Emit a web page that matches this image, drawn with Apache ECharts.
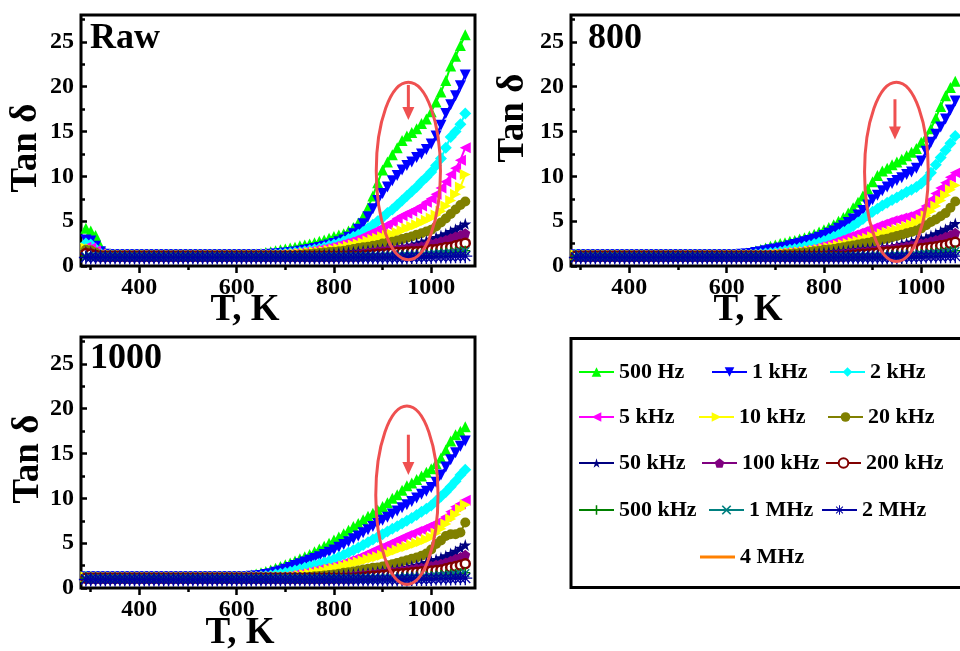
<!DOCTYPE html>
<html>
<head>
<meta charset="utf-8">
<script src="https://cdn.jsdelivr.net/npm/echarts@6.0.0/dist/echarts.min.js"></script>
<style>
  html, body { margin: 0; padding: 0; background: #fff; }
  #chart { width: 960px; height: 651px; }
</style>
</head>
<body>
<div id="chart"></div>
<script>
// Measurement temperatures (K)
const TEMPS = [
  290,300,310,320,330,340,350,360,370,380,
  390,400,410,420,430,440,450,460,470,480,
  490,500,510,520,530,540,550,560,570,580,
  590,600,610,620,630,640,650,660,670,680,
  690,700,710,720,730,740,750,760,770,780,
  790,800,810,820,830,840,850,860,870,880,
  890,900,910,920,930,940,950,960,970,980,
  990,1000,1010,1020,1030,1040,1050,1060,1070
];

const FREQS = ['500 Hz','1 kHz','2 kHz','5 kHz','10 kHz','20 kHz','50 kHz','100 kHz','200 kHz','500 kHz','1 MHz','2 MHz','4 MHz'];
const PANEL_LABELS = ['Raw', '800', '1000'];
const X_MAJOR = [400, 600, 800, 1000];
const X_MINOR = [300, 500, 700, 900];
const Y_MAJOR = [0, 5, 10, 15, 20, 25];
const Y_MINOR = [2.5, 7.5, 12.5, 17.5, 22.5, 27.5];

// ---- Raw sample ----
const RAW_500HZ = [
  4.2,3.9,3.4,2.2,1.5,1.3,1.25,1.25,1.25,1.25,
  1.25,1.25,1.25,1.25,1.25,1.25,1.25,1.25,1.25,1.25,
  1.25,1.25,1.25,1.25,1.25,1.25,1.25,1.25,1.25,1.25,
  1.25,1.25,1.25,1.25,1.3,1.35,1.4,1.5,1.6,1.7,
  1.8,1.9,2.0,2.1,2.25,2.35,2.45,2.6,2.75,2.9,
  3.1,3.3,3.45,3.6,3.9,4.3,4.8,5.5,6.5,7.8,
  9.3,10.7,11.6,12.4,13.2,14.0,14.5,14.9,15.3,15.9,
  16.4,17.2,18.3,19.4,20.7,22.3,23.4,24.6,25.8];
const RAW_1KHZ = [
  2.9,2.8,2.2,1.6,1.3,1.25,1.25,1.25,1.25,1.25,
  1.25,1.25,1.25,1.25,1.25,1.25,1.25,1.25,1.25,1.25,
  1.25,1.25,1.25,1.25,1.25,1.25,1.25,1.25,1.25,1.25,
  1.25,1.25,1.25,1.25,1.25,1.25,1.25,1.25,1.3,1.35,
  1.4,1.45,1.5,1.55,1.65,1.75,1.85,1.95,2.05,2.2,
  2.35,2.5,2.7,2.9,3.2,3.6,4.1,4.7,5.5,6.4,
  7.3,8.1,8.8,9.5,10.1,10.7,11.2,11.6,12.1,12.5,
  13.0,13.6,14.5,15.7,17.0,18.0,19.0,20.1,21.3];
const RAW_2KHZ = [
  2.5,2.4,1.9,1.4,1.25,1.25,1.25,1.25,1.25,1.25,
  1.25,1.25,1.25,1.25,1.25,1.25,1.25,1.25,1.25,1.25,
  1.25,1.25,1.25,1.25,1.25,1.25,1.25,1.25,1.25,1.25,
  1.25,1.25,1.25,1.25,1.25,1.25,1.25,1.25,1.25,1.3,
  1.35,1.4,1.45,1.5,1.55,1.65,1.75,1.85,1.95,2.1,
  2.25,2.4,2.55,2.75,3.0,3.25,3.5,3.8,4.2,4.6,
  5.0,5.4,5.9,6.3,6.8,7.3,7.8,8.3,8.8,9.4,
  9.9,10.5,11.2,12.0,13.2,14.4,15.0,15.8,17.0];
const RAW_5KHZ = [
  2.1,2.0,1.7,1.35,1.25,1.25,1.25,1.25,1.25,1.25,
  1.25,1.25,1.25,1.25,1.25,1.25,1.25,1.25,1.25,1.25,
  1.25,1.25,1.25,1.25,1.25,1.25,1.25,1.25,1.25,1.25,
  1.25,1.25,1.25,1.25,1.25,1.25,1.25,1.25,1.25,1.25,
  1.3,1.35,1.4,1.45,1.5,1.6,1.65,1.75,1.85,1.95,
  2.05,2.2,2.35,2.5,2.65,2.85,3.05,3.3,3.55,3.8,
  4.05,4.35,4.6,4.9,5.3,5.6,5.85,6.1,6.4,6.7,
  7.1,7.5,8.0,8.7,9.4,10.2,10.9,11.8,13.2];
const RAW_10KHZ = [
  2.0,1.9,1.6,1.3,1.25,1.25,1.25,1.25,1.25,1.25,
  1.25,1.25,1.25,1.25,1.25,1.25,1.25,1.25,1.25,1.25,
  1.25,1.25,1.25,1.25,1.25,1.25,1.25,1.25,1.25,1.25,
  1.25,1.25,1.25,1.25,1.25,1.25,1.25,1.25,1.25,1.25,
  1.25,1.25,1.3,1.35,1.4,1.45,1.5,1.55,1.6,1.65,
  1.75,1.85,1.95,2.05,2.2,2.35,2.45,2.6,2.8,2.95,
  3.1,3.25,3.4,3.55,3.75,3.95,4.2,4.4,4.6,4.85,
  5.1,5.35,5.7,6.1,6.7,7.3,8.0,8.8,10.2];
const RAW_20KHZ = [
  1.8,1.75,1.5,1.25,1.2,1.2,1.2,1.2,1.2,1.2,
  1.2,1.2,1.2,1.2,1.2,1.2,1.2,1.2,1.2,1.2,
  1.2,1.2,1.2,1.2,1.2,1.2,1.2,1.2,1.2,1.2,
  1.2,1.2,1.2,1.2,1.2,1.2,1.2,1.2,1.2,1.2,
  1.2,1.2,1.2,1.2,1.25,1.3,1.35,1.4,1.45,1.5,
  1.55,1.6,1.65,1.7,1.8,1.9,2.0,2.1,2.15,2.25,
  2.35,2.5,2.6,2.7,2.85,3.0,3.15,3.3,3.5,3.65,
  3.85,4.05,4.4,4.85,5.3,5.8,6.3,6.8,7.2];
const RAW_50KHZ = [
  1.6,1.55,1.35,1.2,1.15,1.15,1.15,1.15,1.15,1.15,
  1.15,1.15,1.15,1.15,1.15,1.15,1.15,1.15,1.15,1.15,
  1.15,1.15,1.15,1.15,1.15,1.15,1.15,1.15,1.15,1.15,
  1.15,1.15,1.15,1.15,1.15,1.15,1.15,1.15,1.15,1.15,
  1.15,1.15,1.15,1.15,1.15,1.15,1.15,1.2,1.25,1.3,
  1.35,1.4,1.45,1.5,1.55,1.6,1.65,1.7,1.75,1.8,
  1.85,1.9,1.95,2.0,2.05,2.15,2.25,2.35,2.5,2.65,
  2.8,3.0,3.2,3.4,3.6,3.85,4.1,4.4,4.7];
const RAW_100KHZ = [
  1.5,1.45,1.25,1.1,1.1,1.1,1.1,1.1,1.1,1.1,
  1.1,1.1,1.1,1.1,1.1,1.1,1.1,1.1,1.1,1.1,
  1.1,1.1,1.1,1.1,1.1,1.1,1.1,1.1,1.1,1.1,
  1.1,1.1,1.1,1.1,1.1,1.1,1.1,1.1,1.1,1.1,
  1.1,1.1,1.1,1.1,1.1,1.1,1.1,1.1,1.1,1.1,
  1.1,1.1,1.15,1.2,1.25,1.3,1.35,1.45,1.5,1.55,
  1.65,1.7,1.75,1.8,1.85,1.9,1.95,2.05,2.1,2.2,
  2.3,2.45,2.6,2.75,2.9,3.1,3.3,3.45,3.65];
const RAW_200KHZ = [
  1.4,1.35,1.2,1.1,1.1,1.1,1.1,1.1,1.1,1.1,
  1.1,1.1,1.1,1.1,1.1,1.1,1.1,1.1,1.1,1.1,
  1.1,1.1,1.1,1.1,1.1,1.1,1.1,1.1,1.1,1.1,
  1.1,1.1,1.1,1.1,1.1,1.1,1.1,1.1,1.1,1.1,
  1.1,1.1,1.1,1.1,1.1,1.1,1.1,1.1,1.1,1.1,
  1.1,1.1,1.1,1.1,1.1,1.1,1.1,1.15,1.2,1.25,
  1.3,1.35,1.4,1.45,1.5,1.5,1.55,1.6,1.6,1.65,
  1.7,1.8,1.85,1.95,2.05,2.1,2.25,2.4,2.55];

// ---- High-frequency curves (nearly identical in all three samples) ----
const HF_500KHZ = [
  1.1,1.1,1.1,1.1,1.1,1.1,1.1,1.1,1.1,1.1,
  1.1,1.1,1.1,1.1,1.1,1.1,1.1,1.1,1.1,1.1,
  1.1,1.1,1.1,1.1,1.1,1.1,1.1,1.1,1.1,1.1,
  1.1,1.1,1.1,1.1,1.1,1.1,1.1,1.1,1.1,1.1,
  1.1,1.1,1.1,1.1,1.1,1.1,1.1,1.1,1.1,1.1,
  1.1,1.1,1.1,1.1,1.1,1.1,1.1,1.1,1.1,1.1,
  1.1,1.1,1.15,1.15,1.2,1.2,1.25,1.25,1.3,1.3,
  1.35,1.35,1.4,1.45,1.5,1.55,1.6,1.65,1.7];
const HF_1MHZ = [
  1.05,1.05,1.05,1.05,1.05,1.05,1.05,1.05,1.05,1.05,
  1.05,1.05,1.05,1.05,1.05,1.05,1.05,1.05,1.05,1.05,
  1.05,1.05,1.05,1.05,1.05,1.05,1.05,1.05,1.05,1.05,
  1.05,1.05,1.05,1.05,1.05,1.05,1.05,1.05,1.05,1.05,
  1.05,1.05,1.05,1.05,1.05,1.05,1.05,1.05,1.05,1.05,
  1.05,1.05,1.05,1.05,1.05,1.05,1.05,1.05,1.05,1.05,
  1.05,1.05,1.1,1.1,1.1,1.1,1.15,1.15,1.15,1.15,
  1.2,1.25,1.3,1.35,1.4,1.45,1.5,1.55,1.65];
const HF_2MHZ = [
  0.95,0.95,0.95,0.95,0.95,0.95,0.95,0.95,0.95,0.95,
  0.95,0.95,0.95,0.95,0.95,0.95,0.95,0.95,0.95,0.95,
  0.95,0.95,0.95,0.95,0.95,0.95,0.95,0.95,0.95,0.95,
  0.95,0.95,0.95,0.95,0.95,0.95,0.95,0.95,0.95,0.95,
  0.95,0.95,0.95,0.95,0.95,0.95,0.95,0.95,0.95,0.95,
  0.95,0.95,0.95,0.95,0.95,0.95,0.95,0.95,0.95,0.95,
  0.95,0.95,0.95,0.95,0.95,0.95,0.95,1.0,1.0,1.0,
  1.0,1.0,1.05,1.05,1.05,1.05,1.1,1.1,1.1];
const HF_4MHZ = [
  1.0,1.0,1.0,1.0,1.0,1.0,1.0,1.0,1.0,1.0,
  1.0,1.0,1.0,1.0,1.0,1.0,1.0,1.0,1.0,1.0,
  1.0,1.0,1.0,1.0,1.0,1.0,1.0,1.0,1.0,1.0,
  1.0,1.0,1.0,1.0,1.0,1.0,1.0,1.0,1.0,1.0,
  1.0,1.0,1.0,1.0,1.0,1.0,1.0,1.0,1.0,1.0,
  1.0,1.0,1.0,1.0,1.0,1.0,1.0,1.0,1.0,1.0,
  1.0,1.05,1.05,1.05,1.05,1.05,1.05,1.05,1.05,1.05,
  1.05,1.05,1.1,1.1,1.15,1.15,1.2,1.2,1.25];

// ---- Annealed at 800 ----
const A800_500HZ = [
  1.25,1.25,1.25,1.25,1.25,1.25,1.25,1.25,1.25,1.25,
  1.25,1.25,1.25,1.25,1.25,1.25,1.25,1.25,1.25,1.25,
  1.25,1.25,1.25,1.25,1.25,1.25,1.25,1.25,1.25,1.25,
  1.25,1.25,1.25,1.3,1.35,1.45,1.55,1.7,1.85,2.0,
  2.2,2.35,2.5,2.6,2.75,2.85,3.0,3.15,3.35,3.55,
  3.8,4.05,4.3,4.6,5.0,5.4,5.9,6.5,7.1,7.8,
  8.6,9.4,10.1,10.6,10.9,11.3,11.6,11.9,12.3,12.7,
  13.1,13.8,14.4,15.3,16.5,17.8,19.0,19.9,20.6];
const A800_1KHZ = [
  1.25,1.25,1.25,1.25,1.25,1.25,1.25,1.25,1.25,1.25,
  1.25,1.25,1.25,1.25,1.25,1.25,1.25,1.25,1.25,1.25,
  1.25,1.25,1.25,1.25,1.25,1.25,1.25,1.25,1.25,1.25,
  1.25,1.25,1.25,1.25,1.3,1.35,1.4,1.5,1.6,1.7,
  1.8,1.9,2.0,2.1,2.25,2.4,2.55,2.7,2.85,3.0,
  3.2,3.4,3.65,3.9,4.2,4.5,4.85,5.25,5.7,6.2,
  6.8,7.4,7.9,8.4,8.8,9.2,9.55,9.85,10.2,10.5,
  10.9,11.7,12.8,13.8,14.7,15.5,16.4,17.4,18.4];
const A800_2KHZ = [
  1.25,1.25,1.25,1.25,1.25,1.25,1.25,1.25,1.25,1.25,
  1.25,1.25,1.25,1.25,1.25,1.25,1.25,1.25,1.25,1.25,
  1.25,1.25,1.25,1.25,1.25,1.25,1.25,1.25,1.25,1.25,
  1.25,1.25,1.25,1.25,1.25,1.25,1.25,1.3,1.35,1.4,
  1.45,1.5,1.6,1.7,1.8,1.9,2.0,2.15,2.3,2.45,
  2.6,2.8,3.0,3.25,3.5,3.8,4.1,4.45,4.85,5.25,
  5.65,6.05,6.4,6.75,7.05,7.35,7.65,7.95,8.25,8.5,
  8.8,9.2,9.7,10.4,11.3,12.1,12.9,13.7,14.5];
const A800_5KHZ = [
  1.25,1.25,1.25,1.25,1.25,1.25,1.25,1.25,1.25,1.25,
  1.25,1.25,1.25,1.25,1.25,1.25,1.25,1.25,1.25,1.25,
  1.25,1.25,1.25,1.25,1.25,1.25,1.25,1.25,1.25,1.25,
  1.25,1.25,1.25,1.25,1.25,1.25,1.25,1.25,1.25,1.3,
  1.35,1.4,1.45,1.5,1.55,1.6,1.65,1.75,1.85,1.95,
  2.15,2.3,2.45,2.65,2.85,3.05,3.25,3.45,3.65,3.85,
  4.05,4.25,4.45,4.65,4.85,5.05,5.2,5.35,5.5,5.65,
  5.8,6.2,6.7,7.4,8.1,8.7,9.3,9.9,10.4];
const A800_10KHZ = [
  1.25,1.25,1.25,1.25,1.25,1.25,1.25,1.25,1.25,1.25,
  1.25,1.25,1.25,1.25,1.25,1.25,1.25,1.25,1.25,1.25,
  1.25,1.25,1.25,1.25,1.25,1.25,1.25,1.25,1.25,1.25,
  1.25,1.25,1.25,1.25,1.25,1.25,1.25,1.25,1.25,1.25,
  1.25,1.3,1.35,1.4,1.45,1.5,1.55,1.6,1.7,1.75,
  1.85,1.95,2.05,2.15,2.3,2.4,2.5,2.65,2.8,2.95,
  3.1,3.25,3.4,3.6,3.75,3.9,4.05,4.2,4.4,4.6,
  4.85,5.2,5.6,6.1,6.7,7.3,7.9,8.5,9.0];
const A800_20KHZ = [
  1.2,1.2,1.2,1.2,1.2,1.2,1.2,1.2,1.2,1.2,
  1.2,1.2,1.2,1.2,1.2,1.2,1.2,1.2,1.2,1.2,
  1.2,1.2,1.2,1.2,1.2,1.2,1.2,1.2,1.2,1.2,
  1.2,1.2,1.2,1.2,1.2,1.2,1.2,1.2,1.2,1.2,
  1.2,1.2,1.25,1.3,1.35,1.4,1.45,1.5,1.55,1.65,
  1.7,1.8,1.85,1.9,2.0,2.1,2.2,2.3,2.4,2.5,
  2.6,2.7,2.8,2.95,3.05,3.2,3.35,3.5,3.65,3.8,
  3.95,4.2,4.55,4.9,5.2,5.55,5.9,6.5,7.2];
const A800_50KHZ = [
  1.15,1.15,1.15,1.15,1.15,1.15,1.15,1.15,1.15,1.15,
  1.15,1.15,1.15,1.15,1.15,1.15,1.15,1.15,1.15,1.15,
  1.15,1.15,1.15,1.15,1.15,1.15,1.15,1.15,1.15,1.15,
  1.15,1.15,1.15,1.15,1.15,1.15,1.15,1.15,1.15,1.15,
  1.15,1.15,1.15,1.15,1.15,1.2,1.25,1.3,1.35,1.4,
  1.45,1.5,1.55,1.6,1.65,1.7,1.75,1.8,1.85,1.9,
  1.95,2.0,2.05,2.1,2.15,2.2,2.3,2.45,2.55,2.7,
  2.85,3.0,3.15,3.4,3.6,3.85,4.1,4.4,4.75];
const A800_100KHZ = [
  1.1,1.1,1.1,1.1,1.1,1.1,1.1,1.1,1.1,1.1,
  1.1,1.1,1.1,1.1,1.1,1.1,1.1,1.1,1.1,1.1,
  1.1,1.1,1.1,1.1,1.1,1.1,1.1,1.1,1.1,1.1,
  1.1,1.1,1.1,1.1,1.1,1.1,1.1,1.1,1.1,1.1,
  1.1,1.1,1.1,1.1,1.1,1.1,1.1,1.1,1.1,1.1,
  1.15,1.2,1.25,1.3,1.35,1.4,1.45,1.5,1.55,1.6,
  1.65,1.7,1.75,1.8,1.9,1.95,2.05,2.1,2.2,2.3,
  2.4,2.5,2.6,2.75,2.9,3.05,3.25,3.45,3.7];
const A800_200KHZ = [
  1.1,1.1,1.1,1.1,1.1,1.1,1.1,1.1,1.1,1.1,
  1.1,1.1,1.1,1.1,1.1,1.1,1.1,1.1,1.1,1.1,
  1.1,1.1,1.1,1.1,1.1,1.1,1.1,1.1,1.1,1.1,
  1.1,1.1,1.1,1.1,1.1,1.1,1.1,1.1,1.1,1.1,
  1.1,1.1,1.1,1.1,1.1,1.1,1.1,1.1,1.1,1.1,
  1.1,1.1,1.1,1.1,1.1,1.1,1.15,1.2,1.25,1.3,
  1.35,1.4,1.45,1.5,1.55,1.6,1.65,1.7,1.75,1.8,
  1.9,1.95,2.0,2.1,2.15,2.25,2.35,2.5,2.65];

// ---- Annealed at 1000 ----
const A1000_500HZ = [
  1.25,1.25,1.25,1.25,1.25,1.25,1.25,1.25,1.25,1.25,
  1.25,1.25,1.25,1.25,1.25,1.25,1.25,1.25,1.25,1.25,
  1.25,1.25,1.25,1.25,1.25,1.25,1.25,1.25,1.25,1.25,
  1.25,1.25,1.3,1.35,1.45,1.55,1.7,1.85,2.0,2.2,
  2.4,2.6,2.8,3.0,3.25,3.5,3.75,4.05,4.35,4.65,
  5.0,5.35,5.7,6.05,6.45,6.85,7.2,7.6,8.0,8.35,
  8.7,9.1,9.5,10.0,10.4,10.9,11.4,11.7,12.1,12.5,
  12.9,13.3,13.9,14.5,15.4,16.4,17.1,17.5,18.0];
const A1000_1KHZ = [
  1.25,1.25,1.25,1.25,1.25,1.25,1.25,1.25,1.25,1.25,
  1.25,1.25,1.25,1.25,1.25,1.25,1.25,1.25,1.25,1.25,
  1.25,1.25,1.25,1.25,1.25,1.25,1.25,1.25,1.25,1.25,
  1.25,1.25,1.25,1.25,1.3,1.35,1.4,1.5,1.6,1.75,
  1.9,2.1,2.3,2.5,2.7,2.9,3.1,3.3,3.5,3.75,
  4.0,4.25,4.55,4.85,5.15,5.5,5.8,6.15,6.5,6.85,
  7.2,7.55,7.9,8.25,8.6,8.95,9.3,9.65,10.05,10.45,
  10.8,11.2,11.8,12.6,13.5,14.3,15.1,15.8,16.4];
const A1000_2KHZ = [
  1.25,1.25,1.25,1.25,1.25,1.25,1.25,1.25,1.25,1.25,
  1.25,1.25,1.25,1.25,1.25,1.25,1.25,1.25,1.25,1.25,
  1.25,1.25,1.25,1.25,1.25,1.25,1.25,1.25,1.25,1.25,
  1.25,1.25,1.25,1.25,1.25,1.25,1.3,1.35,1.4,1.5,
  1.6,1.7,1.8,1.95,2.1,2.25,2.4,2.55,2.7,2.85,
  3.0,3.2,3.45,3.7,3.95,4.2,4.5,4.8,5.1,5.4,
  5.7,6.0,6.3,6.6,6.9,7.2,7.5,7.8,8.15,8.5,
  8.85,9.2,9.7,10.2,10.7,11.3,11.9,12.6,13.2];
const A1000_5KHZ = [
  1.25,1.25,1.25,1.25,1.25,1.25,1.25,1.25,1.25,1.25,
  1.25,1.25,1.25,1.25,1.25,1.25,1.25,1.25,1.25,1.25,
  1.25,1.25,1.25,1.25,1.25,1.25,1.25,1.25,1.25,1.25,
  1.25,1.25,1.25,1.25,1.25,1.25,1.25,1.25,1.25,1.25,
  1.25,1.3,1.4,1.5,1.6,1.7,1.85,1.95,2.1,2.2,
  2.3,2.45,2.6,2.8,3.0,3.2,3.4,3.65,3.9,4.15,
  4.4,4.6,4.85,5.1,5.35,5.6,5.85,6.05,6.3,6.5,
  6.75,7.0,7.25,7.55,7.95,8.5,9.05,9.4,9.8];
const A1000_10KHZ = [
  1.25,1.25,1.25,1.25,1.25,1.25,1.25,1.25,1.25,1.25,
  1.25,1.25,1.25,1.25,1.25,1.25,1.25,1.25,1.25,1.25,
  1.25,1.25,1.25,1.25,1.25,1.25,1.25,1.25,1.25,1.25,
  1.25,1.25,1.25,1.25,1.25,1.25,1.25,1.25,1.25,1.25,
  1.25,1.25,1.25,1.3,1.4,1.5,1.6,1.7,1.8,1.9,
  2.1,2.2,2.3,2.45,2.6,2.75,2.9,3.05,3.2,3.35,
  3.5,3.65,3.85,4.05,4.25,4.45,4.6,4.8,5.0,5.2,
  5.4,5.65,6.1,6.6,7.15,7.7,8.2,8.8,9.3];
const A1000_20KHZ = [
  1.2,1.2,1.2,1.2,1.2,1.2,1.2,1.2,1.2,1.2,
  1.2,1.2,1.2,1.2,1.2,1.2,1.2,1.2,1.2,1.2,
  1.2,1.2,1.2,1.2,1.2,1.2,1.2,1.2,1.2,1.2,
  1.2,1.2,1.2,1.2,1.2,1.2,1.2,1.2,1.2,1.2,
  1.2,1.2,1.2,1.2,1.2,1.2,1.25,1.3,1.35,1.4,
  1.45,1.5,1.6,1.7,1.75,1.85,1.95,2.05,2.15,2.25,
  2.3,2.4,2.55,2.65,2.8,2.95,3.1,3.25,3.4,3.6,
  3.85,4.3,4.9,5.3,5.8,6.0,6.0,6.2,7.3];
const A1000_50KHZ = [
  1.15,1.15,1.15,1.15,1.15,1.15,1.15,1.15,1.15,1.15,
  1.15,1.15,1.15,1.15,1.15,1.15,1.15,1.15,1.15,1.15,
  1.15,1.15,1.15,1.15,1.15,1.15,1.15,1.15,1.15,1.15,
  1.15,1.15,1.15,1.15,1.15,1.15,1.15,1.15,1.15,1.15,
  1.15,1.15,1.15,1.15,1.15,1.15,1.15,1.15,1.2,1.25,
  1.3,1.35,1.4,1.45,1.5,1.55,1.6,1.65,1.7,1.75,
  1.8,1.9,1.95,2.0,2.1,2.2,2.3,2.45,2.55,2.7,
  2.85,3.0,3.2,3.4,3.6,3.85,4.1,4.45,4.8];
const A1000_100KHZ = [
  1.1,1.1,1.1,1.1,1.1,1.1,1.1,1.1,1.1,1.1,
  1.1,1.1,1.1,1.1,1.1,1.1,1.1,1.1,1.1,1.1,
  1.1,1.1,1.1,1.1,1.1,1.1,1.1,1.1,1.1,1.1,
  1.1,1.1,1.1,1.1,1.1,1.1,1.1,1.1,1.1,1.1,
  1.1,1.1,1.1,1.1,1.1,1.1,1.1,1.1,1.1,1.1,
  1.1,1.15,1.2,1.25,1.3,1.35,1.4,1.45,1.5,1.55,
  1.6,1.65,1.7,1.8,1.85,1.95,2.0,2.1,2.2,2.25,
  2.35,2.45,2.6,2.7,2.85,3.05,3.25,3.45,3.7];
const A1000_200KHZ = [
  1.1,1.1,1.1,1.1,1.1,1.1,1.1,1.1,1.1,1.1,
  1.1,1.1,1.1,1.1,1.1,1.1,1.1,1.1,1.1,1.1,
  1.1,1.1,1.1,1.1,1.1,1.1,1.1,1.1,1.1,1.1,
  1.1,1.1,1.1,1.1,1.1,1.1,1.1,1.1,1.1,1.1,
  1.1,1.1,1.1,1.1,1.1,1.1,1.1,1.1,1.1,1.1,
  1.1,1.1,1.1,1.1,1.1,1.1,1.15,1.2,1.25,1.3,
  1.35,1.4,1.45,1.5,1.55,1.6,1.65,1.7,1.75,1.8,
  1.85,1.9,1.95,2.0,2.15,2.3,2.4,2.55,2.7];

// Curves of each sample, in the order of FREQS
const PANEL_VALUES = [
  [RAW_500HZ, RAW_1KHZ, RAW_2KHZ, RAW_5KHZ, RAW_10KHZ, RAW_20KHZ, RAW_50KHZ, RAW_100KHZ, RAW_200KHZ, HF_500KHZ, HF_1MHZ, HF_2MHZ, HF_4MHZ],
  [A800_500HZ, A800_1KHZ, A800_2KHZ, A800_5KHZ, A800_10KHZ, A800_20KHZ, A800_50KHZ, A800_100KHZ, A800_200KHZ, HF_500KHZ, HF_1MHZ, HF_2MHZ, HF_4MHZ],
  [A1000_500HZ, A1000_1KHZ, A1000_2KHZ, A1000_5KHZ, A1000_10KHZ, A1000_20KHZ, A1000_50KHZ, A1000_100KHZ, A1000_200KHZ, HF_500KHZ, HF_1MHZ, HF_2MHZ, HF_4MHZ]
];

// Circled region and arrow in each panel (data coordinates: T in K, tan delta)
const MARK_CENTER_T = [953, 949, 950];
const MARK_CENTER_V = [10.6, 10.5, 10.35];
const MARK_HALF_T = [66, 65.5, 64];
const MARK_HALF_V = [9.9, 10.0, 9.95];
const ARROW_T = [953, 946, 953];
const ARROW_FROM = [20.2, 18.6, 17.1];
const ARROW_TO = [16.3, 14.1, 12.6];

// ---------------- styling ----------------
const FONT = '"Liberation Serif", "Times New Roman", serif';
const STAR = 'path://M50,0 L61,35 L98,35 L68,57 L79,91 L50,70 L21,91 L32,57 L2,35 L39,35 Z';
const PENTAGON = 'path://M50,0 L98,36 L80,94 L20,94 L2,36 Z';
const PLUS = 'path://M42,0 H58 V42 H100 V58 H58 V100 H42 V58 H0 V42 H42 Z';
const CROSS = 'path://M12,0 L50,38 L88,0 L100,12 L62,50 L100,88 L88,100 L50,62 L12,100 L0,88 L38,50 L0,12 Z';
const ASTERISK = 'path://M45,0 H55 V38 L82,11 L89,18 L62,45 H100 V55 H62 L89,82 L82,89 L55,62 V100 H45 V62 L18,89 L11,82 L38,55 H0 V45 H38 L11,18 L18,11 L45,38 Z';

const STYLES = [
  { color: '#00ff00', symbol: 'triangle', size: 11, rotate: 0 },
  { color: '#0000ff', symbol: 'triangle', size: 11, rotate: 180 },
  { color: '#00ffff', symbol: 'diamond', size: 12, rotate: 0 },
  { color: '#ff00ff', symbol: 'triangle', size: 11, rotate: 90 },
  { color: '#ffff00', symbol: 'triangle', size: 11, rotate: -90 },
  { color: '#808000', symbol: 'circle', size: 10, rotate: 0 },
  { color: '#000080', symbol: STAR, size: 12, rotate: 0 },
  { color: '#800080', symbol: PENTAGON, size: 10, rotate: 0 },
  { color: '#800000', symbol: 'circle', size: 9, rotate: 0, fill: '#ffffff', border: 2.5 },
  { color: '#008000', symbol: PLUS, size: 10, rotate: 0 },
  { color: '#008080', symbol: CROSS, size: 9, rotate: 0 },
  { color: '#0000a0', symbol: ASTERISK, size: 14, rotate: 0 },
  { color: '#ff8000', symbol: 'none', size: 0, rotate: 0 }
];

const GRIDS = [
  { left: 81, top: 15, width: 394, height: 251 },
  { left: 571, top: 15, width: 394, height: 251 },
  { left: 81, top: 337, width: 394, height: 251 }
];
const TAN_POS = [[26, 148], [513, 118], [28, 459]];
const TK_POS = [[245, 310], [748, 310], [240, 633]];
const LABEL_POS = [[90, 39], [588, 39], [90, 359]];
const LEGEND_SLOTS = [
  [578, 372], [711, 372], [829, 372],
  [578, 417], [698, 417], [827, 417],
  [578, 463], [701, 463], [825, 463],
  [578, 510], [708, 510], [821, 510],
  [700, 557]
];

const chart = echarts.init(document.getElementById('chart'), null, { renderer: 'canvas' });

const tickText = { color: '#000', fontSize: 24, fontWeight: 'bold', fontFamily: FONT, formatter: (v) => String(v) };
const grid = [], xAxis = [], yAxis = [], series = [];

GRIDS.forEach((g, p) => {
  grid.push({
    left: g.left, top: g.top, width: g.width, height: g.height,
    show: true, borderColor: '#000', borderWidth: 3, backgroundColor: 'transparent',
    containLabel: false, outerBoundsMode: 'none'
  });
  const xBase = { gridIndex: p, type: 'value', min: 280, max: 1090, position: 'bottom',
    axisLine: { show: false, onZero: false }, splitLine: { show: false } };
  xAxis.push(Object.assign({}, xBase, {
    axisTick: { show: true, inside: false, length: 7, customValues: X_MAJOR, lineStyle: { color: '#000', width: 2.5 } },
    axisLabel: Object.assign({ customValues: X_MAJOR, margin: 10 }, tickText)
  }));
  xAxis.push(Object.assign({}, xBase, {
    axisTick: { show: true, inside: false, length: 4, customValues: X_MINOR, lineStyle: { color: '#000', width: 2.5 } },
    axisLabel: { show: false }
  }));
  const yBase = { gridIndex: p, type: 'value', min: 0, max: 28, position: 'left',
    axisLine: { show: false, onZero: false }, splitLine: { show: false } };
  yAxis.push(Object.assign({}, yBase, {
    axisTick: { show: true, inside: true, length: 6, customValues: Y_MAJOR, lineStyle: { color: '#000', width: 2.5 } },
    axisLabel: Object.assign({ customValues: Y_MAJOR, margin: 7 }, tickText)
  }));
  yAxis.push(Object.assign({}, yBase, {
    axisTick: { show: true, inside: true, length: 4, customValues: Y_MINOR, lineStyle: { color: '#000', width: 2.5 } },
    axisLabel: { show: false }
  }));

  PANEL_VALUES[p].forEach((vals, s) => {
    const st = STYLES[s];
    series.push({
      type: 'line',
      name: FREQS[s],
      xAxisIndex: p * 2,
      yAxisIndex: p * 2,
      data: TEMPS.map((t, i) => [t, vals[i]]),
      symbol: st.symbol,
      symbolSize: st.size,
      symbolRotate: st.rotate,
      showSymbol: st.symbol !== 'none',
      lineStyle: { color: st.color, width: st.symbol === 'none' ? 2.5 : 2 },
      itemStyle: { color: st.fill || st.color, borderColor: st.color, borderWidth: st.border || 0 },
      emphasis: { disabled: true },
      silent: true,
      animation: false
    });
  });
});

// One legend block per entry so each sits in its own slot of the legend frame
const legend = FREQS.map((name, i) => {
  const plainLine = STYLES[i].symbol === 'none';
  return {
    data: plainLine ? [{ name: name, icon: 'rect' }] : [name],
    left: LEGEND_SLOTS[i][0],
    top: LEGEND_SLOTS[i][1] - 11,
    padding: 0,
    itemGap: 0,
    itemWidth: 35,
    itemHeight: plainLine ? 3 : 12,
    selectedMode: false,
    textStyle: { color: '#000', fontSize: 22, fontWeight: 'bold', fontFamily: FONT }
  };
});

chart.setOption({
  animation: false,
  backgroundColor: '#ffffff',
  grid, xAxis, yAxis, series, legend
});

// Text and annotation overlays, placed through the axes' own scales
const graphic = [];
const titleFont = 'bold 37px ' + FONT;
GRIDS.forEach((g, p) => {
  graphic.push({ type: 'text', x: TAN_POS[p][0], y: TAN_POS[p][1], rotation: Math.PI / 2,
    style: { text: 'Tan δ', font: titleFont, fill: '#000', align: 'center', verticalAlign: 'middle', textAlign: 'center', textVerticalAlign: 'middle' } });
  graphic.push({ type: 'text', x: TK_POS[p][0], y: TK_POS[p][1],
    style: { text: 'T, K', font: titleFont, fill: '#000', align: 'center', verticalAlign: 'middle', textAlign: 'center', textVerticalAlign: 'middle' } });
  graphic.push({ type: 'text', x: LABEL_POS[p][0], y: LABEL_POS[p][1],
    style: { text: PANEL_LABELS[p], font: 'bold 36px ' + FONT, fill: '#000', align: 'left', verticalAlign: 'middle', textAlign: 'left', textVerticalAlign: 'middle' } });

  const finder = { xAxisIndex: p * 2, yAxisIndex: p * 2 };
  const c = chart.convertToPixel(finder, [MARK_CENTER_T[p], MARK_CENTER_V[p]]);
  const e = chart.convertToPixel(finder, [MARK_CENTER_T[p] + MARK_HALF_T[p], MARK_CENTER_V[p] + MARK_HALF_V[p]]);
  graphic.push({ type: 'ellipse', z: 100,
    shape: { cx: c[0], cy: c[1], rx: Math.abs(e[0] - c[0]), ry: Math.abs(e[1] - c[1]) },
    style: { fill: 'none', stroke: '#ef5050', lineWidth: 3 } });
  const a0 = chart.convertToPixel(finder, [ARROW_T[p], ARROW_FROM[p]]);
  const a1 = chart.convertToPixel(finder, [ARROW_T[p], ARROW_TO[p]]);
  const headLen = 13, headHalf = 6;
  graphic.push({ type: 'line', z: 100,
    shape: { x1: a0[0], y1: a0[1], x2: a1[0], y2: a1[1] - headLen + 2 },
    style: { stroke: '#ef5050', lineWidth: 3 } });
  graphic.push({ type: 'polygon', z: 100,
    shape: { points: [[a1[0], a1[1]], [a1[0] - headHalf, a1[1] - headLen], [a1[0] + headHalf, a1[1] - headLen]] },
    style: { fill: '#ef5050' } });
});

// Frame around the legend block
graphic.push({ type: 'rect', z: 1,
  shape: { x: 571, y: 338.5, width: 420, height: 249 },
  style: { fill: 'none', stroke: '#000', lineWidth: 3 } });

chart.setOption({ graphic });
</script>
</body>
</html>
